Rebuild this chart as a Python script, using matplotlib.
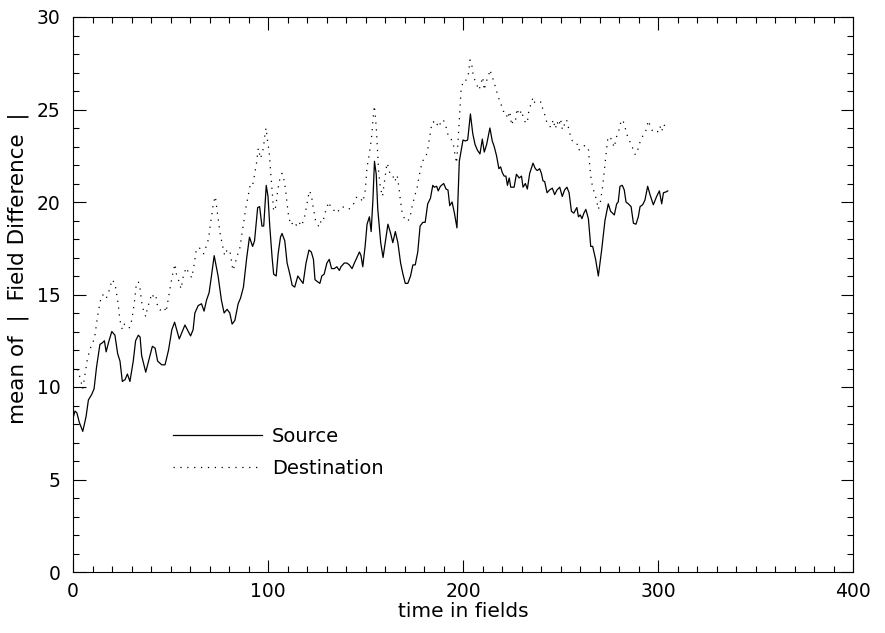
import numpy as np
import matplotlib
matplotlib.use("Agg")
from matplotlib import pyplot as plt
from matplotlib.ticker import MultipleLocator

# values (time in fields, mean |field difference|)
src_t = [0, 1, 2, 3.2, 5, 6.7, 7.9, 9.6, 10.8, 12.1, 13.8, 15.2, 16.1, 17, 18.2, 19.9, 21.5, 22.9, 24.1, 25.3,
         26.7, 27.9, 29.2, 30.9, 32.1, 33.5, 34.4, 35.2, 37.3, 39, 40.7, 42.1, 43.4, 45.5, 47.2, 49, 50.7, 52.1,
         54.5, 57.4, 60.3, 61.6, 62.5, 64.2, 65.9, 67.2, 68.5, 69.8, 71, 72.4, 74.4, 76.1, 77.5, 79, 80.4, 81.6,
         83, 84.7, 85.9, 87.4, 89.1, 90.5, 92.1, 93.1, 94.7, 95.7, 96.9, 97.8, 99.1, 100, 100.9, 102.1, 102.9,
         104.2, 105.2, 106.4, 107.2, 108.6, 109.8, 111.2, 112.4, 113.7, 115.3, 116.6, 118, 119.5, 121, 122.2,
         123.3, 124.1, 125.3, 126.6, 127.6, 128.8, 130.2, 131.4, 132.6, 134, 135.3, 136.6, 137.4, 139.1, 140.5,
         141.7, 143.1, 144.3, 145.6, 146.9, 147.7, 148.6, 149.8, 150.8, 152, 152.9, 153.8, 154.6, 155.5, 156.3,
         157.8, 159, 160.1, 161.5, 162.9, 164, 165.3, 166.6, 168, 169.2, 170.4, 171.7, 173.1, 174.3, 175.5,
         176.8, 178, 179.4, 180.6, 181.9, 183.3, 184.5, 185.3, 186.5, 187.3, 188.4, 190.1, 191.3, 192.3, 193.2,
         194.4, 195.6, 196.9, 198.1, 200, 201.2, 202.4, 203.8, 205, 206.2, 207.4, 208.7, 209.9, 210.9, 212.1,
         213.8, 215, 216, 217.2, 218.4, 219.3, 220.1, 221.1, 222, 222.8, 223.7, 224.5, 226.2, 227.4, 228.8, 230,
         230.8, 232, 233, 234.2, 235.9, 237.1, 238.1, 239.3, 240.2, 241, 241.9, 243.1, 244.4, 245.8, 247, 248.2,
         249.6, 250.9, 252.1, 253.3, 254.4, 255.6, 256.8, 258.4, 259.2, 260.1, 261, 262, 263, 264.3, 265.5,
         266.5, 268, 269.4, 271.1, 272.8, 274.5, 275.7, 277.6, 278.8, 279.6, 280.5, 281.7, 282.7, 283.6, 284.8,
         286.2, 287.4, 288.7, 289.9, 290.8, 292.1, 293.3, 294.7, 295.9, 297.6, 299.3, 300.7, 301.9, 302.8,
         304.2, 305]
src_v = [8.3, 8.7, 8.6, 8.1, 7.6, 8.4, 9.3, 9.6, 9.9, 11.1, 12.3, 12.4, 12.5, 11.9, 12.4, 13.0, 12.8, 11.8, 11.4,
         10.3, 10.4, 10.7, 10.3, 11.4, 12.5, 12.8, 12.7, 11.7, 10.8, 11.5, 12.2, 12.1, 11.4, 11.2, 11.2, 12.0,
         13.1, 13.5, 12.6, 13.35, 12.76, 13.1, 14.0, 14.4, 14.5, 14.1, 14.7, 15.1, 16.0, 17.1, 16.0, 14.7, 14.0,
         14.2, 14.0, 13.4, 13.6, 14.5, 14.8, 15.4, 17.0, 18.1, 17.6, 17.9, 19.7, 19.75, 18.7, 18.7, 20.9, 20.3,
         18.7, 17.0, 16.1, 16.0, 17.2, 18.1, 18.3, 17.9, 16.7, 16.1, 15.5, 15.4, 16.0, 15.8, 15.6, 16.7, 17.4,
         17.3, 16.9, 15.8, 15.7, 15.6, 16.0, 16.1, 16.7, 16.9, 16.4, 16.4, 16.5, 16.3, 16.5, 16.7, 16.7, 16.6,
         16.4, 16.7, 17.0, 17.3, 17.1, 16.5, 17.6, 18.8, 19.2, 18.4, 20.1, 22.2, 21.5, 19.6, 17.8, 17.0, 17.8,
         18.8, 18.3, 17.8, 18.4, 17.8, 16.7, 16.1, 15.6, 15.6, 16.0, 16.6, 16.6, 17.3, 18.7, 18.9, 18.9, 19.9,
         20.2, 20.9, 20.8, 20.85, 20.6, 20.85, 21.0, 20.7, 20.65, 19.8, 20.0, 19.4, 18.6, 22.2, 23.35, 23.3,
         23.35, 24.76, 23.7, 23.1, 22.8, 22.6, 23.4, 22.7, 23.1, 24.0, 23.3, 23.0, 22.5, 21.8, 21.9, 21.6, 21.4,
         21.4, 20.9, 21.3, 20.8, 20.8, 21.5, 21.3, 21.4, 20.8, 21.0, 20.7, 21.55, 22.1, 21.8, 21.7, 21.8, 21.55,
         21.15, 21.1, 20.5, 20.65, 20.75, 20.4, 20.65, 20.8, 20.3, 20.65, 20.8, 20.5, 19.5, 19.4, 19.7, 19.2,
         19.3, 19.1, 19.4, 19.6, 19.1, 17.6, 17.6, 16.9, 16.0, 17.4, 19.0, 19.9, 19.5, 19.3, 19.9, 20.0, 20.85,
         20.9, 20.65, 20.0, 19.9, 19.75, 18.85, 18.8, 19.2, 19.75, 19.85, 20.1, 20.85, 20.4, 19.85, 20.3, 20.6,
         19.9, 20.5, 20.55, 20.6]

dst_t = [0, 0.9, 2.2, 3.2, 4.1, 5, 5.6, 6.3, 7.2, 8.2, 9.6, 11, 12.3, 13.3, 14.6, 16.3, 17.1, 18.8, 20, 21.5, 22.9,
         24.1, 25.3, 26.4, 27.9, 28.9, 30.1, 31.4, 32.3, 33.5, 34.4, 35.2, 36.4, 37.4, 38.1, 39.5, 40.3, 41.2,
         42.4, 43.3, 44.6, 45.8, 46.9, 47.7, 48.6, 49.8, 50.7, 51.5, 52.3, 53.2, 54.4, 55.4, 56.6, 58, 59.2,
         60.9, 62.1, 63.2, 64.4, 65.6, 67, 68.3, 69.5, 70.4, 71.3, 72.1, 73, 73.8, 74.7, 75.6, 76.8, 77.8, 79,
         80.4, 81.3, 82, 83, 84.2, 85.4, 86.4, 87.6, 88.5, 89.6, 91, 92.2, 93, 94.1, 95, 96.2, 97.6, 98.5, 99,
         99.9, 100.6, 101.7, 102.4, 102.9, 104, 105, 106, 107.2, 108, 108.9, 109.8, 110.6, 111.8, 113.2, 114.5,
         115.7, 117.1, 118.6, 120, 121.2, 122.2, 123.1, 124.3, 125.5, 126.4, 127.2, 128.3, 128.9, 130, 131.2,
         132.4, 133.8, 135.5, 136.8, 138, 139.2, 140.5, 142.2, 143.9, 145.6, 147.4, 148.7, 149.9, 150.8, 151.6,
         152.5, 153.3, 153.8, 154.5, 155, 155.6, 156.1, 156.8, 157.6, 158.7, 159.8, 161, 161.9, 162.7, 164.1,
         165, 166.2, 167, 167.9, 168.8, 170, 171.4, 172.7, 173.9, 175.2, 176.5, 177.7, 179.1, 180.8, 181.7,
         182.6, 183.8, 184.8, 186, 186.9, 187.7, 188.7, 189.9, 191.3, 192.5, 193.7, 195, 195.9, 196.7, 197.3,
         198.2, 199, 200, 201.2, 202.8, 203.6, 204.4, 205.3, 206.8, 208.2, 209.2, 210.1, 210.9, 211.8, 213,
         213.8, 214.7, 215.9, 216.9, 218.1, 219, 219.9, 220.7, 221.9, 222.8, 224, 224.9, 225.8, 226.9, 227.7,
         228.8, 230, 230.8, 231.7, 232.9, 233.8, 235, 235.9, 236.8, 238.1, 240.2, 241, 242.2, 243.1, 244.1,
         245.3, 246.2, 247.4, 248.2, 249.1, 250, 251, 251.9, 253.1, 253.9, 254.8, 255.7, 256.9, 258.4, 259.2,
         260.1, 261.2, 262.2, 263.4, 264.3, 264.8, 265.5, 266.3, 267.2, 268.5, 269.4, 270.3, 271.5, 272.5,
         273.4, 274.2, 275.1, 276.3, 277.5, 278.8, 280, 280.9, 281.9, 283.1, 283.9, 285.1, 286.5, 287.7, 288.5,
         289.9, 290.8, 292.1, 293.3, 294.2, 295, 295.9, 297.3, 298.8, 299.8, 301, 301.9, 302.8, 303.6, 305]
dst_v = [11.0, 11.1, 11.05, 10.65, 10.3, 9.9, 10.3, 10.75, 11.4, 11.85, 12.3, 12.6, 13.6, 14.25, 14.95, 15.0,
         14.8, 15.3, 15.8, 15.6, 14.7, 13.6, 13.1, 13.4, 13.35, 13.2, 13.6, 14.5, 15.4, 15.7, 15.3, 14.6, 14.0,
         13.8, 14.25, 14.7, 15.05, 14.9, 15.0, 14.4, 14.15, 14.25, 14.3, 14.05, 14.6, 15.35, 15.9, 16.3, 16.65,
         16.0, 15.7, 15.3, 16.0, 16.45, 16.2, 15.9, 16.6, 17.4, 17.55, 17.45, 17.2, 17.6, 18.0, 18.75, 19.4,
         20.0, 20.3, 19.6, 18.9, 18.2, 17.6, 17.1, 17.4, 17.4, 16.8, 16.3, 16.6, 17.1, 17.4, 18.1, 18.9, 19.6,
         20.2, 21.0, 20.95, 21.4, 22.1, 22.9, 22.35, 22.9, 23.7, 24.0, 23.2, 22.7, 21.2, 20.3, 19.5, 19.75,
         20.65, 21.2, 21.55, 21.3, 20.75, 19.9, 19.2, 18.75, 18.95, 18.75, 18.95, 18.7, 19.1, 19.9, 20.6, 20.4,
         19.75, 19.05, 18.75, 18.65, 19.0, 18.95, 19.3, 19.65, 20.0, 19.65, 19.55, 19.4, 19.65, 19.75, 19.7,
         19.6, 19.65, 19.9, 20.3, 20.2, 20.0, 20.65, 21.9, 22.35, 23.0, 23.7, 24.4, 25.2, 24.7, 23.9, 22.9,
         21.55, 20.8, 20.3, 21.15, 22.1, 21.85, 21.45, 21.4, 21.1, 21.45, 20.9, 20.1, 19.4, 19.1, 18.95, 19.1,
         19.75, 20.3, 20.8, 21.5, 22.2, 22.4, 22.7, 23.3, 24.1, 24.35, 24.1, 24.2, 24.05, 24.35, 24.45, 24.05,
         23.55, 23.45, 23.15, 22.55, 22.1, 23.0, 24.6, 26.05, 26.5, 26.5, 26.95, 27.68, 27.5, 26.8, 26.4, 26.05,
         26.4, 26.75, 26.05, 26.5, 26.75, 27.15, 26.85, 26.5, 26.1, 25.7, 25.35, 25.2, 24.9, 24.9, 24.5, 24.9,
         24.15, 24.45, 24.4, 25.05, 24.7, 24.95, 24.6, 24.35, 24.25, 24.95, 25.35, 25.65, 25.35, 25.4, 25.4,
         24.95, 24.65, 24.25, 24.1, 24.05, 24.45, 23.95, 24.35, 24.1, 24.5, 23.9, 24.15, 24.45, 24.1, 23.7,
         23.35, 23.25, 23.2, 22.8, 22.85, 23.0, 23.05, 22.9, 22.9, 22.2, 21.4, 20.9, 20.55, 20.1, 19.6, 19.9,
         20.75, 21.75, 22.6, 23.4, 23.55, 23.35, 22.95, 23.55, 23.9, 24.3, 24.45, 24.05, 23.7, 23.35, 23.1,
         22.65, 22.55, 22.9, 23.25, 23.55, 23.7, 24.0, 24.4, 24.15, 23.8, 23.85, 23.8, 24.1, 23.8, 24.2, 24.1,
         24.0]

labels = ["Source", "Destination"]

plt.rcParams['font.family'] = ['DejaVu Sans']
fig = plt.figure(figsize=(8.85, 6.33), dpi=100)
ax = fig.add_axes([73 / 885, 1 - 572 / 633, 780 / 885, 555 / 633])

ax.plot(src_t, src_v, color="black", lw=0.9, label=labels[0])
ax.plot(dst_t, dst_v, color="black", lw=0.9, linestyle=(0, (1, 4.5)), label=labels[1])

ax.set_xlim(0, 400)
ax.set_ylim(0, 30)
ax.xaxis.set_major_locator(MultipleLocator(100))
ax.xaxis.set_minor_locator(MultipleLocator(10))
ax.yaxis.set_major_locator(MultipleLocator(5))
ax.yaxis.set_minor_locator(MultipleLocator(1))
ax.tick_params(which="both", direction="in", top=True, right=True, width=0.8, labelsize=13.5)
ax.tick_params(which="major", length=9)
ax.tick_params(which="minor", length=4.5)
ax.tick_params(axis="x", pad=7)
ax.tick_params(axis="y", pad=9)
for s in ax.spines.values():
    s.set_linewidth(0.8)

ax.set_xlabel("time in fields", fontsize=14.5, labelpad=1)
ax.set_ylabel("mean of  |  Field Difference  |", fontsize=15.5)
ax.yaxis.set_label_coords(-0.057, 0.548)

ax.legend(loc="upper left", bbox_to_anchor=(0.128, 0.262), frameon=False, fontsize=14,
          handlelength=4.6, handletextpad=0.5, labelspacing=0.7, borderpad=0, borderaxespad=0)

fig.savefig("out.png", dpi=100)
